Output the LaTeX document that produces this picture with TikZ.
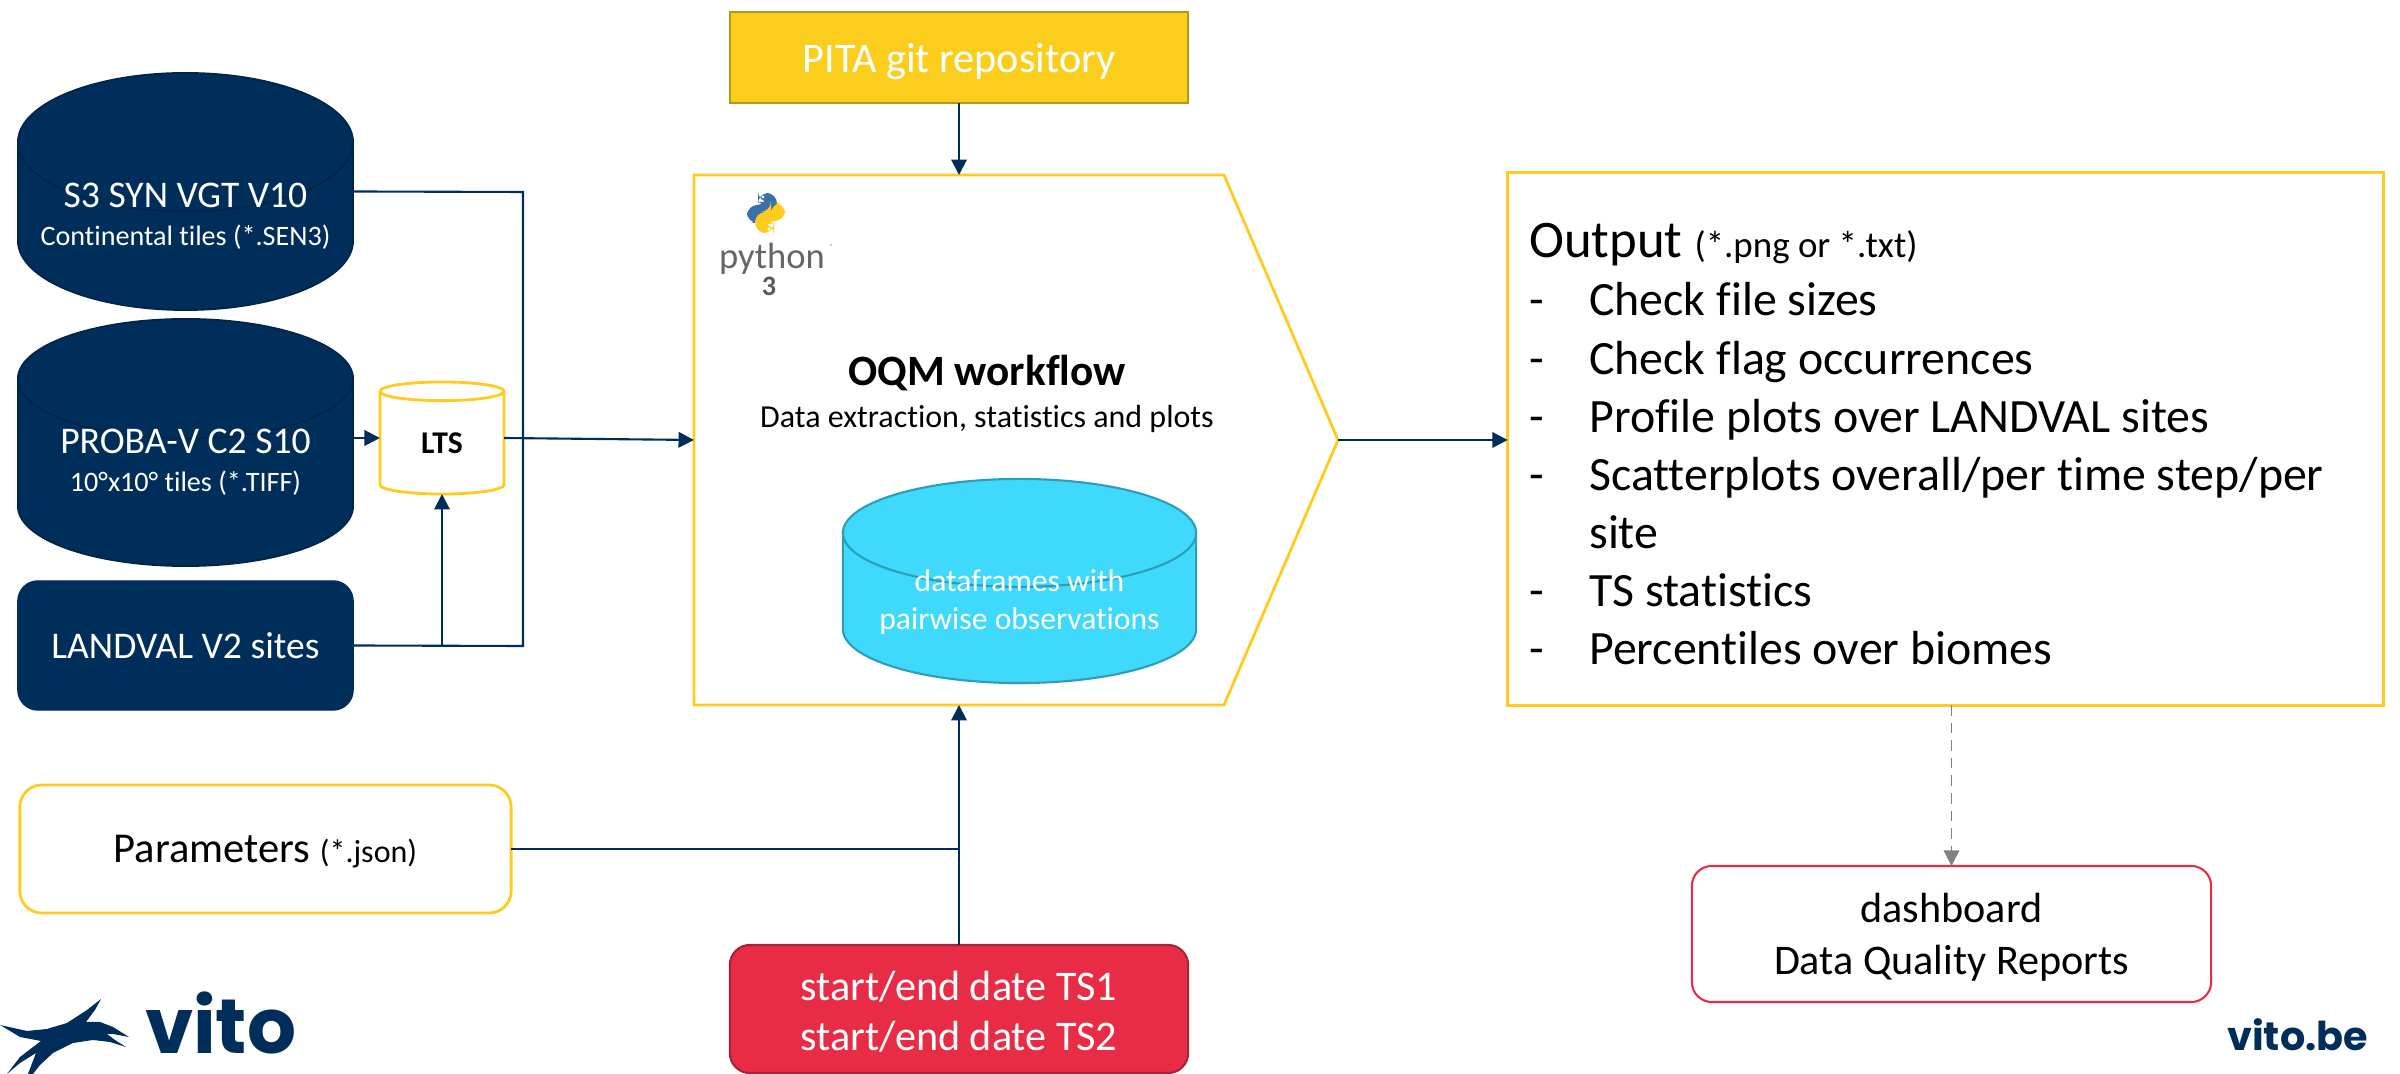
\documentclass[tikz,border=0pt]{standalone}
\usepackage{fontspec}
\setmainfont{Carlito}[Ligatures=NoCommon]
\newfontfamily\vitofont{Poppins}
\usepackage{xcolor}
\usetikzlibrary{shapes.geometric}
\usetikzlibrary{arrows.meta}
\definecolor{vitonavy}{HTML}{002E5A}
\definecolor{vitogold}{HTML}{FFCB1F}
\definecolor{gitfill}{HTML}{FBCE1D}
\definecolor{gitline}{HTML}{B8961A}
\definecolor{vitored}{HTML}{E92C45}
\definecolor{redline}{HTML}{A6233A}
\definecolor{framecyan}{HTML}{3FD9FB}
\definecolor{frameline}{HTML}{2E9DB8}
\definecolor{pyblue}{HTML}{3A72A8}
\newcommand{\Fs}[1]{\fontsize{#1}{1.2\dimexpr#1pt\relax}\selectfont}
\newcommand{\CylLines}[3]{\smash{\raisebox{#1}{\begin{tabular}{@{}c@{}}#2\\[-1.2pt]#3\end{tabular}}}}
\tikzset{
  every node/.style={outer sep=0pt,inner sep=0pt,align=center},
  link/.style={vitonavy,line width=0.6pt},
  linkarrow/.style={link,-{Triangle[length=4.4pt,width=4.4pt]}},
  datacyl/.style={cylinder,shape border rotate=90,draw=vitonavy!80!black,fill=vitonavy,text=white,line width=0.5pt},
  ybox/.style={draw=vitogold,line width=0.8pt,rounded corners=0.22cm,fill=white},
}
\begin{document}
\begin{tikzpicture}[x=0.01cm,y=0.01cm]
\useasboundingbox (0,0) rectangle (2400,-1074);

\node[datacyl,anchor=shape center,aspect=0.478,minimum width=3.35cm,minimum height=2.37cm] (s3) at (185.5,-191.5) {\CylLines{0pt}{\Fs{10.7}S3 SYN VGT V10}{\Fs{8}Continental tiles (*.SEN3)}};% S3 input
\node[datacyl,anchor=shape center,aspect=0.478,minimum width=3.35cm,minimum height=2.47cm] (proba) at (185.5,-442.5) {\CylLines{0pt}{\Fs{10.7}PROBA-V C2 S10}{\Fs{8}10°x10° tiles (*.TIFF)}};% PROBA-V input
\node[draw=vitonavy,fill=vitonavy,rounded corners=0.2cm,text=white,minimum width=3.35cm,minimum height=1.29cm] (landval) at (185.5,-645.5) {\Fs{10.7}LANDVAL V2 sites};
\node[cylinder,shape border rotate=90,anchor=shape center,draw=vitogold,fill=white,line width=0.8pt,aspect=0.45,minimum width=1.24cm,minimum height=1.12cm] (lts) at (442,-438) {\Fs{9}\textbf{LTS}};

% OQM frame
\coordinate (oqmA) at (694,-175);
\coordinate (oqmB) at (1224,-175);
\coordinate (oqmC) at (1338,-440);
\coordinate (oqmD) at (1224,-705);
\coordinate (oqmE) at (694,-705);
\draw[vitogold,line width=0.8pt,fill=white] (oqmA) -- (oqmB) -- (oqmC) -- (oqmD) -- (oqmE) -- cycle;
\node[minimum width=6.44cm,minimum height=5.3cm] (oqm) at (1016,-440) {};
\node[font=\Fs{9.1}] (oqmtxt) at (987,-394) {\Fs{12.3}\textbf{OQM workflow}\\[1pt]Data extraction, statistics and plots};
\node[cylinder,shape border rotate=90,anchor=shape center,draw=frameline,fill=framecyan,text=white,line width=0.6pt,aspect=0.385,minimum width=3.53cm,minimum height=2.04cm] (frames) at (1019.5,-581) {\CylLines{-0.7pt}{\Fs{9}dataframes with}{\Fs{9}pairwise observations}};

% python logo
\fill[pyblue,rounded corners=3] (758,-193) -- (777,-193) -- (777,-214) -- (761,-214) -- (761,-223) -- (747,-223) -- (747,-205) -- (767,-205) -- (767,-202) -- (758,-202) -- cycle;
\fill[vitogold,rounded corners=3] (774,-233) -- (755,-233) -- (755,-212) -- (771,-212) -- (771,-203) -- (785,-203) -- (785,-221) -- (765,-221) -- (765,-224) -- (774,-224) -- cycle;
\fill[white] (763,-197) circle(1.6);
\fill[white] (769,-229) circle(1.6);
\node[text=black!60] (pyname) at (772,-259) {\Fs{10.4}python};
\node[text=black!65] (pyver) at (769,-286) {\Fs{8}\textbf{3}};
\fill[black!40] (831,-245) circle(0.8);

\node[draw=gitline,fill=gitfill,line width=0.6pt,text=white,text depth=0pt,minimum width=4.58cm,minimum height=0.91cm] (git) at (959,-57.5) {\Fs{12}PITA git repository};
\node[ybox,text depth=0pt,minimum width=4.91cm,minimum height=1.28cm] (params) at (265.5,-849) {\Fs{12.1}Parameters {\Fs{9.1}(*.json)}};
\node[draw=redline,fill=vitored,text=white,line width=0.6pt,rounded corners=0.2cm,minimum width=4.58cm,minimum height=1.28cm,font=\Fs{12}] (dates) at (959,-1009) {\rule{0pt}{9.9pt}start/end date TS1\\start/end date TS2};

\node[draw=vitogold,line width=0.8pt,fill=white,minimum width=8.75cm,minimum height=5.32cm] (output) at (1945.5,-439) {\fontsize{13.6}{16.5}\selectfont\begin{tabular}{@{}p{0.6cm}@{}p{7.72cm}@{}}
\multicolumn{2}{@{}l@{}}{\rule{0pt}{17.5pt}\Fs{15}Output {\Fs{10.5}(*.png or *.txt)}}\\
- & Check file sizes\\
- & Check flag occurrences\\
- & Profile plots over LANDVAL sites\\
- & Scatterplots overall/per time step/per\\
 & site\\
- & TS statistics\\
- & Percentiles over biomes
\end{tabular}};
\node[draw=vitored,line width=0.6pt,fill=white,rounded corners=0.2cm,minimum width=5.19cm,minimum height=1.36cm,font=\Fs{12}] (dash) at (1951.5,-934) {\rule{0pt}{10.3pt}dashboard\\[0.4pt]Data Quality Reports};

% connectors
\coordinate (s3corner) at (523,-192);
\coordinate (landcorner) at (523,-646);
\draw[link] (s3.east |- s3.shape center) -- (s3corner) -- (landcorner) -- (landval.east);
\draw[linkarrow] (proba.east |- lts.shape center) -- (lts.west |- lts.shape center);
\draw[linkarrow] (landval.east -| lts.south) -- (lts.south);
\draw[linkarrow] (lts.east |- lts.shape center) -- (oqmA |- oqm.west);
\draw[linkarrow] (git.south) -- (git.south |- oqmA);
\draw[linkarrow] (dates.north -| git.south) -- (git.south |- oqmE);
\draw[link] (params.east) -- (params.east -| git.south);
\draw[linkarrow] (oqmC) -- (output.west |- oqmC);
\draw[black!50,line width=0.5pt,dash pattern=on 3pt off 2pt,-{Triangle[length=4.4pt,width=4.4pt]}] (dash.north |- output.south) -- (dash.north);

% logos
\fill[vitonavy] (0,-1025) -- (27,-1031) -- (47,-1029) -- (67,-1023) -- (87,-1010) -- (101,-999) -- (95,-1010) -- (86,-1022) -- (100,-1022) -- (113,-1027) -- (129,-1037) -- (113,-1034) -- (107,-1034) -- (115,-1040) -- (126,-1047) -- (110,-1042) -- (93,-1040) -- (73,-1043) -- (53,-1053) -- (40,-1065) -- (33,-1074) -- (28,-1074) -- (36,-1053) -- (20,-1063) -- (7,-1074) -- (20,-1057) -- (41,-1041) -- (20,-1037) -- cycle;
\node[text=vitonavy,anchor=base west,text depth=0pt] (vitologo) at (145,-1054) {\vitofont\bfseries\Fs{21.9}vito};
\node[text=vitonavy,anchor=base east,text depth=0pt] (vitobe) at (2368,-1051) {\vitofont\bfseries\Fs{11.3}vito.be};
\end{tikzpicture}
\end{document}
